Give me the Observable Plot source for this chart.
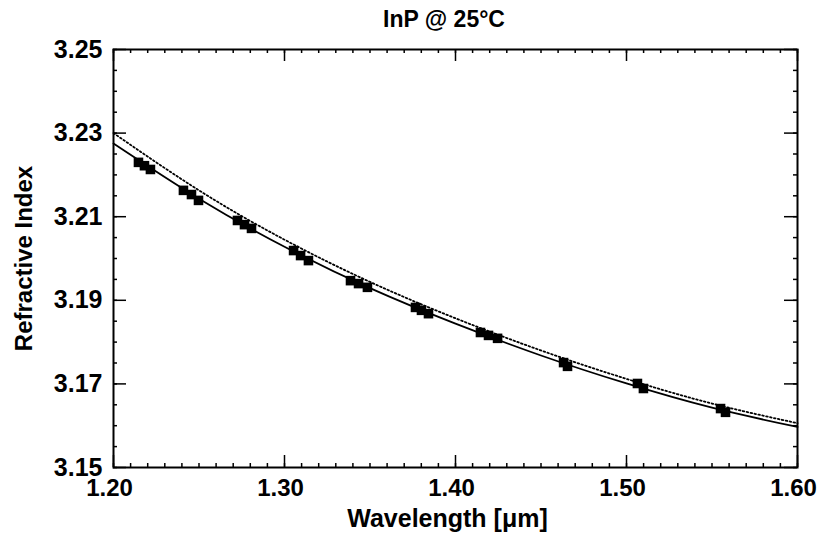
<!DOCTYPE html>
<html>
<head>
<meta charset="utf-8">
<script src="https://cdn.jsdelivr.net/npm/d3@7"></script>
<script src="https://cdn.jsdelivr.net/npm/@observablehq/plot@0.6"></script>
<style>
  body { margin: 0; background: #fff; font-family: "Liberation Sans", Arial, Helvetica, sans-serif; }
  #title { position: relative; width: 817px; height: 30px; }
  #title span { position: absolute; top: 8px; left: 0; width: 817px; padding-left: 71px; box-sizing: border-box;
    text-align: center; font-weight: bold; font-size: 23px; line-height: 1; color: #000; }
</style>
</head>
<body>
<div id="title"><span>InP @ 25°C</span></div>
<div id="chart"></div>
<script>
// Measured data (wavelength in µm, refractive index)
const wavelength = [1.2146, 1.2181, 1.2216, 1.2409, 1.2456, 1.2497, 1.2725, 1.2766, 1.2807,
  1.3053, 1.3094, 1.3140, 1.3386, 1.3433, 1.3485, 1.3766, 1.3801, 1.3842,
  1.4146, 1.4193, 1.4246, 1.4632, 1.4655, 1.5064, 1.5099, 1.5550, 1.5579];
const refIndex = [3.2230, 3.2222, 3.2213, 3.2163, 3.2153, 3.2139, 3.2091, 3.2081, 3.2072,
  3.2019, 3.2007, 3.1995, 3.1947, 3.1940, 3.1931, 3.1883, 3.1876, 3.1868,
  3.1823, 3.1816, 3.1809, 3.1751, 3.1742, 3.1701, 3.1689, 3.1641, 3.1632];

// Fit curves
const fitWavelength = [1.20, 1.25, 1.30, 1.35, 1.40, 1.45, 1.50, 1.55, 1.60];
const solidFit = [3.2275, 3.2143, 3.2028, 3.1929, 3.1844, 3.1768, 3.1701, 3.1643, 3.1597];
const dottedFit = [3.2300, 3.2163, 3.2045, 3.1944, 3.1857, 3.1780, 3.1712, 3.1653, 3.1606];

// Ticks
const xMajorTicks = [1.20, 1.30, 1.40, 1.50, 1.60];
const yMajorTicks = [3.15, 3.17, 3.19, 3.21, 3.23, 3.25];
const xMinorTicks = d3.range(0, 41).map(i => 1.20 + i * 0.01);
const yMinorTicks = d3.range(0, 21).map(i => 3.15 + i * 0.005);

const points = wavelength.map((x, i) => ({x, y: refIndex[i]}));
const solid = fitWavelength.map((x, i) => ({x, y: solidFit[i]}));
const dotted = fitWavelength.map((x, i) => ({x, y: dottedFit[i]}));

const W = 817, H = 508, mL = 113, mR = 20, mT = 19, mB = 71;
const pw = W - mL - mR, ph = H - mT - mB;
const font = "Liberation Sans, Arial, Helvetica, sans-serif";

const chart = Plot.plot({
  width: W, height: H,
  marginLeft: mL, marginRight: mR, marginTop: mT, marginBottom: mB,
  style: {fontFamily: font, background: "#fff", color: "#000"},
  x: {domain: [1.20, 1.60], axis: null},
  y: {domain: [3.15, 3.25], axis: null},
  marks: [
    // fit curves
    Plot.line(dotted, {x: "x", y: "y", curve: "natural", stroke: "#000", strokeWidth: 1.8, strokeDasharray: "1.6,2.4"}),
    Plot.line(solid, {x: "x", y: "y", curve: "natural", stroke: "#000", strokeWidth: 1.8}),
    // data points
    Plot.dot(points, {x: "x", y: "y", symbol: "square", r: 5.4, fill: "#000", stroke: "none"}),
    // inward ticks: bottom / top
    Plot.tickX(xMinorTicks, {x: d => d, insetTop: ph - 4, stroke: "#000", strokeWidth: 1.5}),
    Plot.tickX(xMajorTicks, {x: d => d, insetTop: ph - 12, stroke: "#000", strokeWidth: 1.5}),
    Plot.tickX(xMinorTicks, {x: d => d, insetBottom: ph - 4, stroke: "#000", strokeWidth: 1.5}),
    Plot.tickX(xMajorTicks, {x: d => d, insetBottom: ph - 12, stroke: "#000", strokeWidth: 1.5}),
    // inward ticks: left / right
    Plot.tickY(yMinorTicks, {y: d => d, insetRight: pw - 4, stroke: "#000", strokeWidth: 1.5}),
    Plot.tickY(yMajorTicks, {y: d => d, insetRight: pw - 13, stroke: "#000", strokeWidth: 1.5}),
    Plot.tickY(yMinorTicks, {y: d => d, insetLeft: pw - 4, stroke: "#000", strokeWidth: 1.5}),
    Plot.tickY(yMajorTicks, {y: d => d, insetLeft: pw - 13, stroke: "#000", strokeWidth: 1.5}),
    // frame
    Plot.frame({stroke: "#000", strokeWidth: 2}),
    // tick labels
    Plot.axisX(xMajorTicks, {anchor: "bottom", tickSize: 0, tickPadding: 11, tickFormat: d3.format(".2f"),
      fontSize: 24, fontWeight: "bold", dx: -4, label: null}),
    Plot.axisY(yMajorTicks, {anchor: "left", tickSize: 0, tickPadding: 11, tickFormat: d3.format(".2f"),
      fontSize: 25, fontWeight: "bold", label: null}),
    // axis titles
    Plot.text(["Wavelength [μm]"], {text: d => d, frameAnchor: "bottom", lineAnchor: "middle", textAnchor: "middle",
      dy: 51, dx: -8, fontSize: 25, fontWeight: "bold", fill: "#000"}),
    Plot.text(["Refractive Index"], {text: d => d, frameAnchor: "left", textAnchor: "middle", lineAnchor: "middle",
      rotate: -90, dx: -89, fontSize: 24, fontWeight: "bold", fill: "#000"})
  ]
});
document.getElementById("chart").appendChild(chart);
</script>
</body>
</html>
